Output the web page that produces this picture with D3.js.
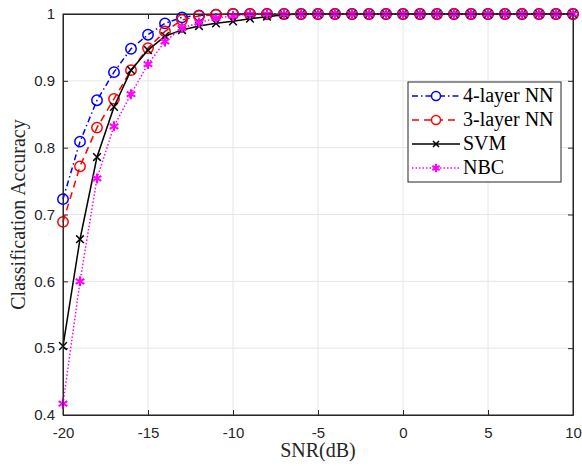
<!DOCTYPE html>
<html>
<head>
<meta charset="utf-8">
<script src="https://cdn.jsdelivr.net/npm/d3@7"></script>
<style>
  body { margin: 0; background: #fff; }
  svg { display: block; }
</style>
</head>
<body>
<svg id="chart"></svg>
<script>
// SNR points, one every dB
const snr = d3.range(-20, 11, 1);

const nn4 = [0.723, 0.809, 0.871, 0.913, 0.948, 0.969, 0.986, 0.995, 0.998, 0.999,
  1, 1, 1, 1, 1, 1, 1, 1, 1, 1, 1, 1, 1, 1, 1, 1, 1, 1, 1, 1, 1];
const nn3 = [0.689, 0.772, 0.830, 0.873, 0.916, 0.949, 0.974, 0.991, 0.997, 0.999,
  1, 1, 1, 1, 1, 1, 1, 1, 1, 1, 1, 1, 1, 1, 1, 1, 1, 1, 1, 1, 1];
const svm = [0.503, 0.663, 0.786, 0.861, 0.916, 0.946, 0.967, 0.976, 0.982, 0.986,
  0.989, 0.993, 0.996, 0.999, 1, 1, 1, 1, 1, 1, 1, 1, 1, 1, 1, 1, 1, 1, 1, 1, 1];
const nbc = [0.417, 0.600, 0.754, 0.832, 0.880, 0.925, 0.959, 0.979, 0.987, 0.994,
  0.997, 1, 1, 1, 1, 1, 1, 1, 1, 1, 1, 1, 1, 1, 1, 1, 1, 1, 1, 1, 1];

const xTicks = [-20, -15, -10, -5, 0, 5, 10];
const yTicks = [0.4, 0.5, 0.6, 0.7, 0.8, 0.9, 1];

const series = [
  { name: '4-layer NN', values: nn4, color: '#0000ff', dash: '6,3,1.5,3', marker: 'circle' },
  { name: '3-layer NN', values: nn3, color: '#ff0000', dash: '7,5', marker: 'circle' },
  { name: 'SVM', values: svm, color: '#000000', dash: null, marker: 'x' },
  { name: 'NBC', values: nbc, color: '#ff00ff', dash: '1.5,2', marker: 'star' }
];

const width = 582, height = 466;
const margin = { top: 14, right: 9, bottom: 51, left: 63 };
const w = width - margin.left - margin.right;
const h = height - margin.top - margin.bottom;

const svg = d3.select('#chart').attr('width', width).attr('height', height);
const g = svg.append('g').attr('transform', `translate(${margin.left},${margin.top})`);

const x = d3.scaleLinear().domain([-20, 10]).range([0, w]);
const y = d3.scaleLinear().domain([0.4, 1]).range([h, 0]);

// grid
g.append('g').selectAll('line').data(xTicks).join('line')
  .attr('x1', d => x(d)).attr('x2', d => x(d)).attr('y1', 0).attr('y2', h)
  .attr('stroke', '#e6e6e6').attr('stroke-width', 1);
g.append('g').selectAll('line').data(yTicks).join('line')
  .attr('y1', d => y(d)).attr('y2', d => y(d)).attr('x1', 0).attr('x2', w)
  .attr('stroke', '#e6e6e6').attr('stroke-width', 1);

// axes, ticks inward (plain hyphen for negatives, like matlab)
const axisColor = '#262626';
g.append('g').attr('transform', `translate(0,${h})`)
  .call(d3.axisBottom(x).tickValues(xTicks).tickFormat(d => String(d)).tickSizeInner(-5).tickSizeOuter(0).tickPadding(12));
g.append('g')
  .call(d3.axisLeft(y).tickValues(yTicks).tickFormat(d => String(d)).tickSizeInner(-5).tickSizeOuter(0).tickPadding(8));
g.append('g')
  .call(d3.axisTop(x).tickValues(xTicks).tickFormat('').tickSizeInner(-5).tickSizeOuter(0));
g.append('g').attr('transform', `translate(${w},0)`)
  .call(d3.axisRight(y).tickValues(yTicks).tickFormat('').tickSizeInner(-5).tickSizeOuter(0));
g.selectAll('.domain, .tick line').attr('stroke', axisColor);
g.selectAll('.tick text').attr('fill', axisColor)
  .style('font-family', 'Liberation Sans, Arial, sans-serif').style('font-size', '15px');

// lines and markers
const line = d3.line().x((d, i) => x(snr[i])).y(d => y(d));
const star = d3.symbol().type(d3.symbolAsterisk).size(70);
const cross = d3.symbol().type(d3.symbolTimes).size(40);

series.forEach(s => {
  g.append('path').datum(s.values)
    .attr('d', line)
    .attr('fill', 'none')
    .attr('stroke', s.color)
    .attr('stroke-width', 1.5)
    .attr('stroke-dasharray', s.dash);
  const m = g.append('g').selectAll('.m').data(s.values).join(s.marker === 'circle' ? 'circle' : 'path');
  if (s.marker === 'circle') {
    m.attr('cx', (d, i) => x(snr[i])).attr('cy', d => y(d)).attr('r', 5.2)
      .attr('fill', 'none').attr('stroke', s.color).attr('stroke-width', 1.5);
  } else {
    m.attr('transform', (d, i) => `translate(${x(snr[i])},${y(d)})`)
      .attr('d', s.marker === 'x' ? cross : star)
      .attr('fill', 'none').attr('stroke', s.color)
      .attr('stroke-width', s.marker === 'x' ? 1.5 : 2);
  }
});

// box outline on top
g.append('rect').attr('width', w).attr('height', h)
  .attr('fill', 'none').attr('stroke', axisColor).attr('stroke-width', 1);

// axis labels
svg.append('text')
  .attr('x', margin.left + w / 2).attr('y', 457)
  .attr('text-anchor', 'middle')
  .style('font-family', 'Liberation Serif, Times New Roman, serif').style('font-size', '20px')
  .attr('fill', axisColor)
  .text('SNR(dB)');
svg.append('text')
  .attr('transform', `translate(25,${margin.top + h / 2}) rotate(-90)`)
  .attr('text-anchor', 'middle')
  .style('font-family', 'Liberation Serif, Times New Roman, serif').style('font-size', '20px')
  .attr('fill', axisColor)
  .text('Classification Accuracy');

// legend
const lg = svg.append('g').attr('transform', 'translate(408,82)');
lg.append('rect').attr('width', 153).attr('height', 100)
  .attr('fill', '#fff').attr('stroke', axisColor).attr('stroke-width', 1);
series.forEach((s, i) => {
  const yy = 14 + i * 24;
  const row = lg.append('g').attr('transform', `translate(0,${yy})`);
  row.append('line').attr('x1', 4).attr('x2', 52).attr('y1', 0).attr('y2', 0)
    .attr('stroke', s.color).attr('stroke-width', 1.5).attr('stroke-dasharray', s.dash);
  if (s.marker === 'circle') {
    row.append('circle').attr('cx', 28).attr('cy', 0).attr('r', 4.5)
      .attr('fill', '#fff').attr('stroke', s.color).attr('stroke-width', 1.5);
  } else {
    row.append('path').attr('transform', 'translate(28,0)')
      .attr('d', s.marker === 'x' ? d3.symbol().type(d3.symbolTimes).size(25)() : d3.symbol().type(d3.symbolAsterisk).size(50)())
      .attr('fill', 'none').attr('stroke', s.color).attr('stroke-width', s.marker === 'x' ? 1.5 : 2);
  }
  row.append('text').attr('x', 55).attr('y', 6)
    .style('font-family', 'Liberation Serif, Times New Roman, serif').style('font-size', '20px')
    .attr('fill', '#000')
    .text(s.name);
});
</script>
</body>
</html>
